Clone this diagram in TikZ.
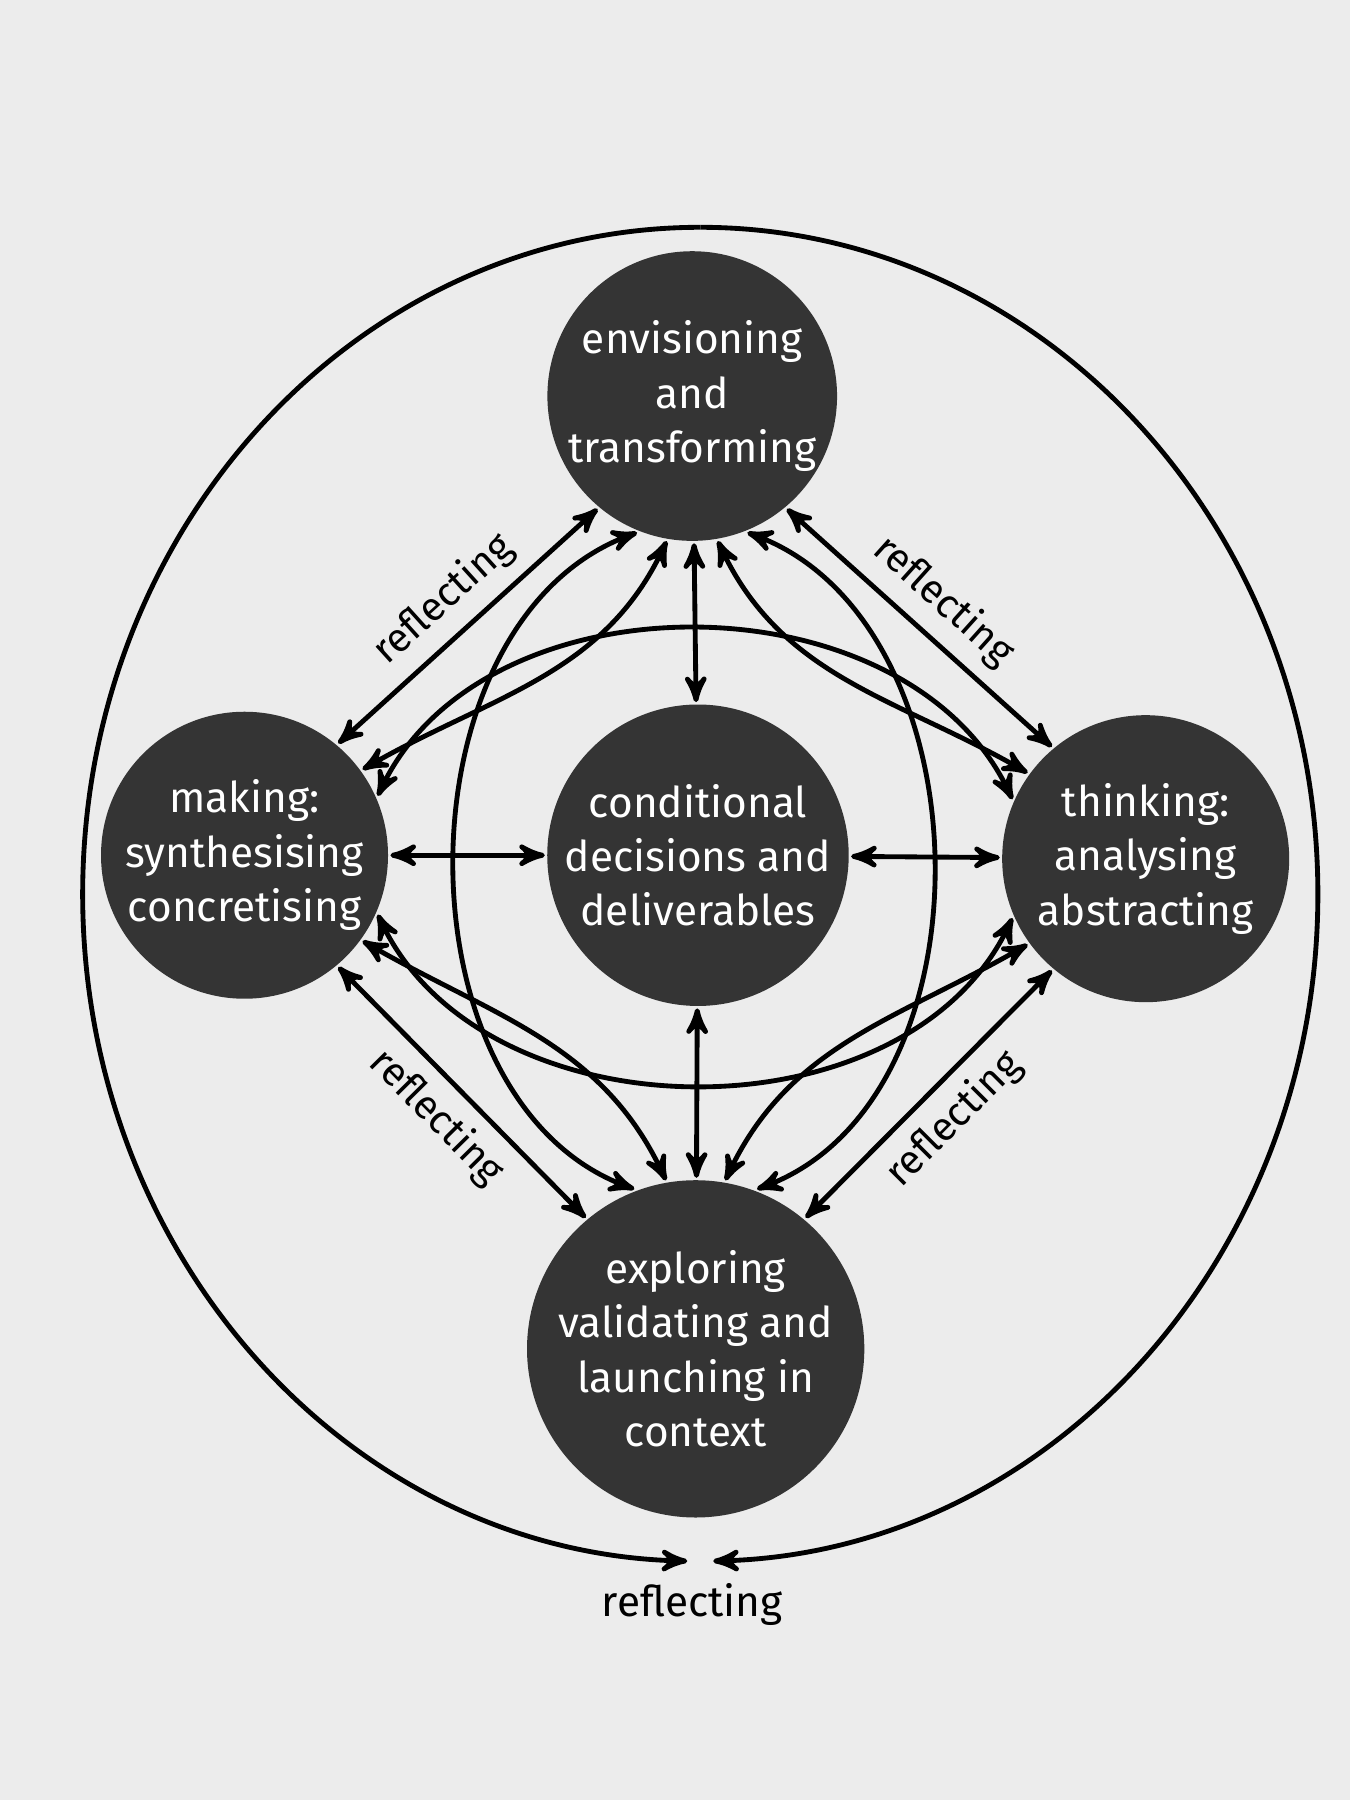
\documentclass[tikz,border=0pt]{standalone}
\usepackage{fontspec}
\setmainfont{Fira Sans}
\usetikzlibrary{arrows,calc,positioning}
\definecolor{discfill}{RGB}{52,52,52}
\definecolor{paper}{RGB}{236,236,236}

\begin{document}
\begin{tikzpicture}[<->, >=stealth', line width=1.2pt,
	disc/.style={circle, fill=discfill, text=white, minimum size=2.5cm, inner sep=0pt,
		align=center, font=\fontsize{10.5}{13.5}\selectfont},
	tag/.style={font=\fontsize{10}{12}\selectfont, sloped, -}
]
\fill[paper] (0,0) rectangle (11.76,-15.68);
\useasboundingbox (0,0) rectangle (11.76,-15.68);

% the five activities
\node[disc] (mid)   at (6.08,-7.45)  {conditional\\decisions and\\deliverables};
\node[disc, minimum size=2.38cm] (top) at (6.03,-3.45) {envisioning\\and\\transforming};
\node[disc] (left)  at (2.13,-7.45)  {making:\\synthesising\\concretising};
\node[disc] (right) at (9.98,-7.48)  {thinking:\\analysing\\abstracting};
\node[disc, minimum size=2.6cm] (bot) at (6.06,-11.75) {exploring\\validating and\\launching in\\context};

% outer loop
\coordinate (hub) at (6.1,-7.79);
\draw[->] ($(hub)+(0,5.81)$) arc[start angle=90, end angle=268.8, x radius=5.38cm, y radius=5.81cm];
\draw[->] ($(hub)+(0,5.81)$) arc[start angle=90, end angle=-88.8, x radius=5.38cm, y radius=5.81cm];
\node[font=\fontsize{10.5}{13}\selectfont] (loop) at (6.03,-13.98) {reflecting};

% to and from the centre
\draw (top) -- (mid);
\draw (bot) -- (mid);
\draw (left) -- (mid);
\draw (right) -- (mid);

% reflecting diagonals
\draw (top.-130) -- node[tag, above] {reflecting} (left.50);
\draw (top.-50) -- node[tag, above] {reflecting} (right.130);
\draw (bot.130) -- node[tag, below] {reflecting} (left.-50);
\draw (bot.50) -- node[tag, below] {reflecting} (right.-130);

% big arcs
\draw (left.24) to[out=65, in=115] (right.156);
\draw (left.-24) to[out=-65, in=-115] (right.-156);
\draw (top.-112) to[out=-160, in=160] (bot.111);
\draw (top.-68) to[out=-20, in=20] (bot.69);

% inner curves
\draw (top.-100) to[out=-115, in=30] (left.36);
\draw (top.-80) to[out=-65, in=150] (right.144);
\draw (bot.100) to[out=115, in=-30] (left.-36);
\draw (bot.80) to[out=65, in=-150] (right.-144);
\end{tikzpicture}
\end{document}
